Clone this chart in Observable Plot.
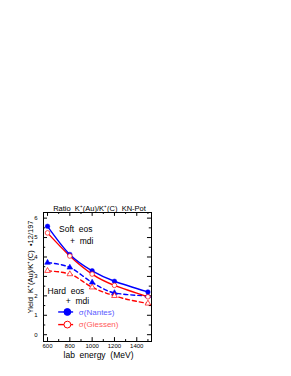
<!DOCTYPE html>
<html><head><meta charset="utf-8">
<script src="https://cdn.jsdelivr.net/npm/d3@7"></script>
<script src="https://cdn.jsdelivr.net/npm/@observablehq/plot@0.6"></script>
<style>
html,body{margin:0;padding:0;background:#fff;}
svg text{white-space:pre;}
</style></head>
<body><div id="chart"></div>
<script>
// ---- data ----
const energies = [600, 800, 1000, 1200, 1500];
const softNantes = [5.58, 4.13, 3.29, 2.75, 2.20];
const softGiessen = [5.24, 4.05, 3.12, 2.54, 1.95];
const hardNantes = [3.71, 3.46, 2.69, 2.15, 2.00];
const hardGiessen = [3.29, 3.12, 2.44, 2.00, 1.61];
const xTickLabels = [600, 800, 1000, 1200, 1400];
const xMinorTicks = [700, 900, 1100, 1300, 1500];
const yTickLabels = [0, 1, 2, 3, 4, 5, 6];
const yMinorTicks = [0.5, 1.5, 2.5, 3.5, 4.5, 5.5];
const titleText = "Ratio  K\u207A(Au)/K\u207A(C)  KN-Pot";
const xLabel = "lab  energy  (MeV)";
const yLabel = "Yield  K\u207A(Au)/K\u207A(C)  \u202212/197";
const annotations = ["Soft  eos", "+  mdi", "Hard  eos", "+  mdi"];
const legendNames = ["\u03C3(Nantes)", "\u03C3(Giessen)"];

// ---- build ----
const xDom = [564, 1532], yDom = [-0.35, 6.29];
const rows = (ys, series) => energies.map((e, i) => ({x: e, y: ys[i], s: series}));
const sN = rows(softNantes, "sN"), sG = rows(softGiessen, "sG");
const hN = rows(hardNantes, "hN"), hG = rows(hardGiessen, "hG");
const blue = "#0000ff", red = "#ff0000";

const annPos = [[703, 5.41], [801, 4.83], [600, 2.22], [763, 1.70]];
const annRows = annotations.map((t, i) => ({t, x: annPos[i][0], y: annPos[i][1]}));
const legY = [1.17, 0.52];
const legRows = legendNames.map((t, i) => ({t, y: legY[i]}));

const xMajLen = 0.2, xMinLen = 0.1, yMajLen = 36, yMinLen = 20;
const fontFamily = "Liberation Sans, Arial, sans-serif";

const plot = Plot.plot({
  width: 291, height: 376,
  marginLeft: 43, marginRight: 140, marginTop: 212, marginBottom: 35,
  x: {domain: xDom, axis: null},
  y: {domain: yDom, axis: null},
  style: {fontFamily, fontSize: "6px", background: "#fff", color: "#000"},
  marks: [
    Plot.frame({stroke: "#000", strokeWidth: 1}),
    // inward ticks
    Plot.ruleX(xTickLabels, {x: d => d, y1: yDom[0], y2: yDom[0] + xMajLen, stroke: "#000"}),
    Plot.ruleX(xTickLabels, {x: d => d, y1: yDom[1], y2: yDom[1] - xMajLen, stroke: "#000"}),
    Plot.ruleX(xMinorTicks, {x: d => d, y1: yDom[0], y2: yDom[0] + xMinLen, stroke: "#000"}),
    Plot.ruleX(xMinorTicks, {x: d => d, y1: yDom[1], y2: yDom[1] - xMinLen, stroke: "#000"}),
    Plot.ruleY(yTickLabels, {y: d => d, x1: xDom[0], x2: xDom[0] + yMajLen, stroke: "#000"}),
    Plot.ruleY(yTickLabels, {y: d => d, x1: xDom[1], x2: xDom[1] - yMajLen, stroke: "#000"}),
    Plot.ruleY(yMinorTicks, {y: d => d, x1: xDom[0], x2: xDom[0] + yMinLen, stroke: "#000"}),
    Plot.ruleY(yMinorTicks, {y: d => d, x1: xDom[1], x2: xDom[1] - yMinLen, stroke: "#000"}),
    // tick labels
    Plot.text(xTickLabels, {x: d => d, frameAnchor: "bottom", dy: 6, text: d => String(d), fontSize: 6, textAnchor: "middle"}),
    Plot.text(yTickLabels, {y: d => d, frameAnchor: "left", dx: -6, text: d => String(d), fontSize: 6, textAnchor: "end"}),
    // axis labels and title
    Plot.text([xLabel], {frameAnchor: "bottom", dy: 16, dx: 1, fontSize: 8.5, textAnchor: "middle"}),
    Plot.text([yLabel], {frameAnchor: "left", dx: -13, dy: -10, rotate: -90, fontSize: 7.5, textAnchor: "middle"}),
    Plot.text([titleText], {frameAnchor: "top", dy: -7, dx: 2, fontSize: 7.5, textAnchor: "middle"}),
    // curves
    Plot.line(hN, {x: "x", y: "y", stroke: blue, strokeWidth: 1.4, strokeDasharray: "4,3", curve: "monotone-x"}),
    Plot.line(hG, {x: "x", y: "y", stroke: red, strokeWidth: 1.4, strokeDasharray: "4,3", curve: "monotone-x"}),
    Plot.line(sG, {x: "x", y: "y", stroke: red, strokeWidth: 1.4, curve: "natural"}),
    Plot.line(sN, {x: "x", y: "y", stroke: blue, strokeWidth: 1.4, curve: "natural"}),
    Plot.dot(hN, {x: "x", y: "y", symbol: "triangle", r: 2.1, fill: blue, stroke: blue, strokeWidth: 0.6}),
    Plot.dot(hG, {x: "x", y: "y", symbol: "triangle", r: 2.1, fill: "#fff", stroke: red, strokeWidth: 0.7}),
    Plot.dot(sN, {x: "x", y: "y", r: 2.3, fill: blue, stroke: blue, strokeWidth: 0.5}),
    Plot.dot(sG, {x: "x", y: "y", r: 2.3, fill: "#fff", stroke: red, strokeWidth: 0.7}),
    // annotations
    Plot.text(annRows, {x: "x", y: "y", text: "t", textAnchor: "start", fontSize: 8.5, fill: "#000"}),
    // legend
    Plot.ruleY(legRows, {y: "y", x1: 700, x2: 834, stroke: (d, i) => i === 0 ? blue : red, strokeWidth: 1.4}),
    Plot.dot(legRows, {x: 778, y: "y", r: 3.4, fill: (d, i) => i === 0 ? blue : "#fff", stroke: (d, i) => i === 0 ? blue : red, strokeWidth: 1}),
    Plot.text(legRows, {x: 881, y: "y", text: "t", textAnchor: "start", fontSize: 8, fill: (d, i) => i === 0 ? "#5a5aff" : "#ff5a5a"})
  ]
});
document.getElementById("chart").appendChild(plot);
</script></body></html>
